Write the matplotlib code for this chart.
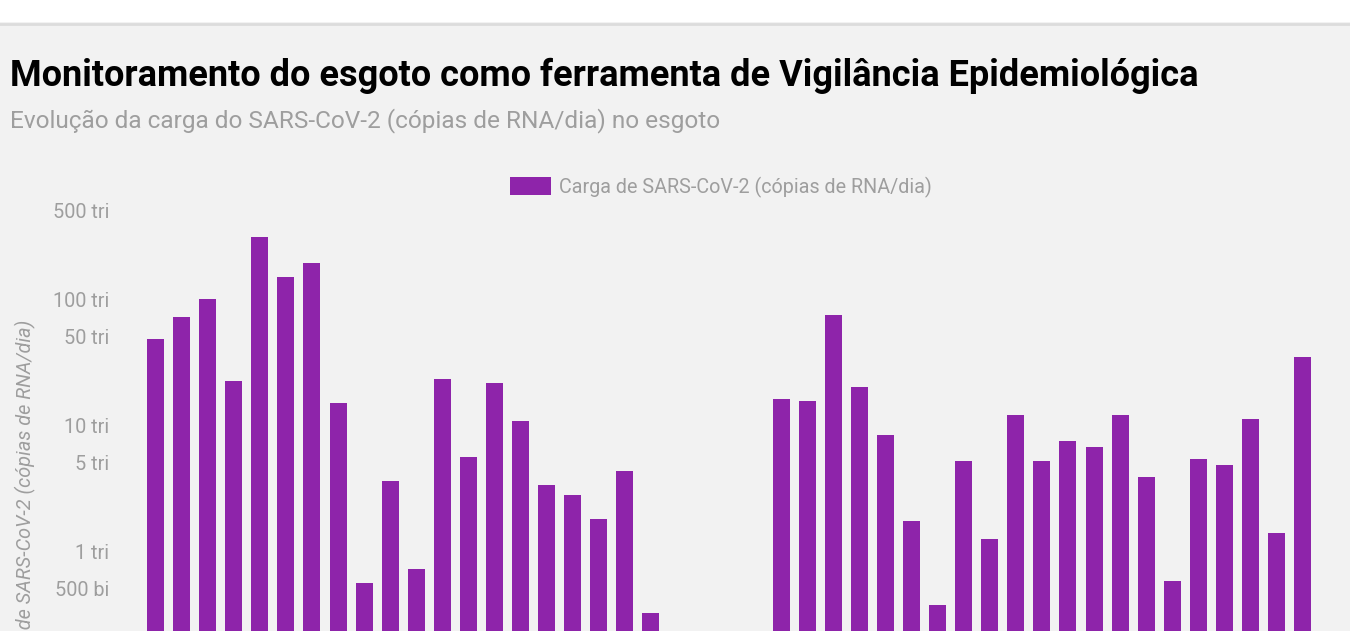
import numpy as np
import matplotlib
matplotlib.use("Agg")
from matplotlib import pyplot as plt
from matplotlib.patches import Rectangle
from matplotlib.lines import Line2D

# carga semanal de SARS-CoV-2 no esgoto, em trilhões de cópias de RNA/dia
# (None = sem coleta)
semanas = [str(i + 1) for i in range(45)]
carga_tri = [48.2, 72, 100, 22.4, 310, 150, 193, 14.9, 0.557, 3.6,
             0.72, 23.2, 5.57, 21.5, 10.8, 3.34, 2.78, 1.79, 4.31, 0.322,
             None, None, None, None,
             16.1, 15.5, 74.6, 20, 8.33, 1.73, 0.373, 5.18, 1.25, 12,
             5.18, 7.46, 6.69, 12, 3.87, 0.578, 5.37, 4.81, 11.2, 1.39, 34.7]
tick_vals = [5e11, 1e12, 5e12, 1e13, 5e13, 1e14, 5e14]
tick_labels = ["500 bi", "1 tri", "5 tri", "10 tri", "50 tri", "100 tri", "500 tri"]

title = "Monitoramento do esgoto como ferramenta de Vigilância Epidemiológica"
subtitle = "Evolução da carga do SARS-CoV-2 (cópias de RNA/dia) no esgoto"
serie = "Carga de SARS-CoV-2 (cópias de RNA/dia)"

plt.rcParams['font.family'] = ['Roboto', 'DejaVu Sans']
BG = "#f2f2f2"
PURPLE = "#8e24aa"
GREY = "#9e9e9e"

W, H = 1350, 631
fig = plt.figure(figsize=(W / 100, H / 100), dpi=100, facecolor=BG)

# faixa branca no topo + linha
fig.patches.append(Rectangle((0, (H - 22) / H), 1, 22 / H, transform=fig.transFigure,
                             facecolor="white", edgecolor="none", zorder=0))
fig.lines.append(Line2D([0, 1], [(H - 23.5) / H] * 2, transform=fig.transFigure,
                        color="#dcdcdc", linewidth=2))

# eixo: a parte de baixo fica fora da figura (recorte da referência)
left_px, right_px = 142.5, 1315.6
top_px, bot_px = 211, 803
ax = fig.add_axes([left_px / W, (H - bot_px) / H, (right_px - left_px) / W,
                   (bot_px - top_px) / H])
ax.set_facecolor(BG)

x = np.arange(len(semanas))
heights = np.array([np.nan if v is None else v * 1e12 for v in carga_tri])
ax.bar(x, heights, width=0.652, color=PURPLE, label=serie)
ax.set_yscale("log")
ax.set_ylim(1e10, 5e14)
ax.set_xlim(-0.5, len(semanas) - 0.5)
ax.set_yticks(tick_vals)
ax.set_yticklabels(tick_labels)
ax.minorticks_off()
ax.set_xticks([])
ax.tick_params(axis="y", length=0, pad=24, labelsize=14.3, labelcolor=GREY)
for s in ax.spines.values():
    s.set_visible(False)

fig.text(25 / W, (H - 502) / H, serie, rotation=90, ha="center", va="center",
         fontsize=14.3, style="italic", color=GREY)

fig.text(10 / W, (H - 76) / H, title, fontsize=26, fontweight="bold",
         color="black", va="center", ha="left")
fig.text(10 / W, (H - 121) / H, subtitle, fontsize=17.6, color=GREY,
         va="center", ha="left")

fig.legend(loc="center", bbox_to_anchor=(721 / W, (H - 187) / H), frameon=False,
           fontsize=14.2, labelcolor=GREY, handlelength=2.05, handleheight=1.05,
           handletextpad=0.4)

fig.savefig("out.png", dpi=100, facecolor=BG)
